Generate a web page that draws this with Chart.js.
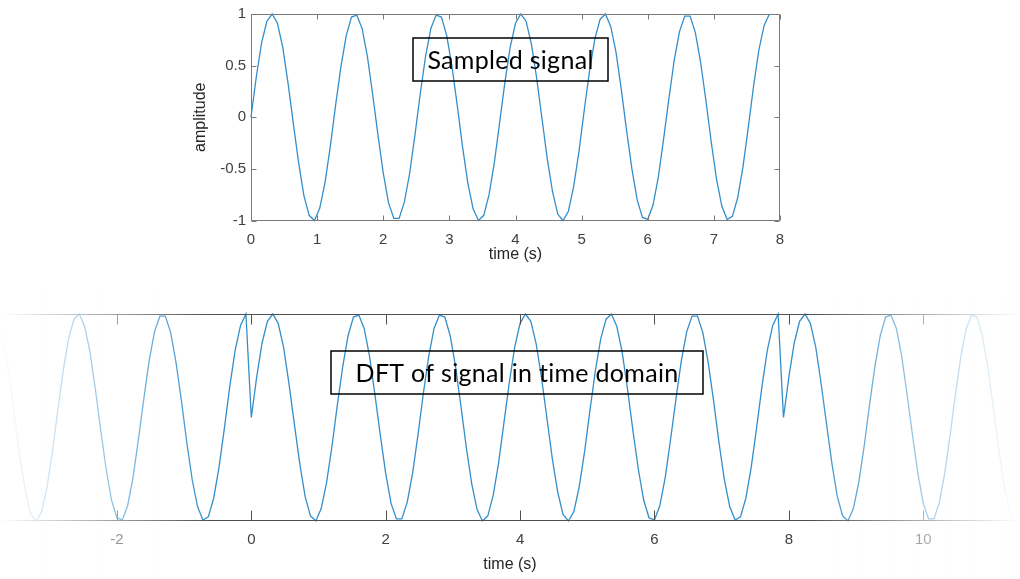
<!DOCTYPE html>
<html>
<head>
<meta charset="utf-8">
<title>Sampled signal and its periodic extension</title>
<script src="https://cdn.jsdelivr.net/npm/chart.js@4.4.1/dist/chart.umd.min.js"></script>
<style>
    body { margin: 0; background: #fff; width: 1020px; height: 579px; overflow: hidden; position: relative; }
    .panel { position: absolute; left: 0; width: 1020px; }
    #topPanel { top: 0; height: 272px; }
    #bottomPanel { top: 290px; height: 289px; }
</style>
</head>
<body>
<div class="panel" id="topPanel"><canvas id="signalChart"></canvas></div>
<div class="panel" id="bottomPanel"><canvas id="periodicChart"></canvas></div>

<script>
    // sample spacing in seconds, samples run from t = 0 to 7.84 s
    const sampleStep = 0.08;
    const signalValues = [
        0.00, 0.39, 0.72, 0.93, 1.00, 0.91, 0.68, 0.33, -0.06, -0.44,
        -0.76, -0.95, -1.00, -0.88, -0.63, -0.28, 0.12, 0.49, 0.79, 0.97,
        0.99, 0.86, 0.59, 0.22, -0.17, -0.54, -0.83, -0.98, -0.98, -0.82,
        -0.54, -0.17, 0.23, 0.59, 0.86, 0.99, 0.97, 0.79, 0.49, 0.11,
        -0.29, -0.64, -0.89, -1.00, -0.95, -0.75, -0.44, -0.05, 0.34, 0.68,
        0.91, 1.00, 0.93, 0.71, 0.38, -0.01, -0.40, -0.72, -0.94, -1.00,
        -0.91, -0.67, -0.33, 0.07, 0.45, 0.76, 0.95, 1.00, 0.88, 0.63,
        0.27, -0.13, -0.50, -0.80, -0.97, -0.99, -0.85, -0.58, -0.21, 0.18,
        0.55, 0.83, 0.98, 0.98, 0.82, 0.53, 0.16, -0.24, -0.60, -0.86,
        -0.99, -0.96, -0.78, -0.48, -0.10, 0.30, 0.65, 0.89, 1.00
    ];
    // which copies of the record are laid side by side in the lower plot
    const repeatCopies = [-1, 0, 1];

    const topTimeTicks = [0, 1, 2, 3, 4, 5, 6, 7, 8];
    const amplitudeTicks = [-1, -0.5, 0, 0.5, 1];
    const bottomTimeTicks = [-2, 0, 2, 4, 6, 8, 10];

    const lineColor = 'rgba(0, 114, 189, 0.8)';
    const labelFont = { family: '"Liberation Sans", Arial, sans-serif', size: 15 };
    const titleFont = { family: '"Liberation Sans", Arial, sans-serif', size: 16 };

    const signalPoints = signalValues.map((v, k) => ({ x: k * sampleStep, y: v }));
    const periodicPoints = repeatCopies.flatMap(c =>
        signalValues.map((v, k) => ({ x: (c * signalValues.length + k) * sampleStep, y: v })));

    const useTicks = list => scale => { scale.ticks = list.map(v => ({ value: v })); };

    // matlab style frame: box/edges plus ticks pointing into the plot
    const axesFrame = {
        id: 'axesFrame',
        afterDatasetsDraw(chart, args, opts) {
            const { ctx, chartArea: a, scales } = chart;
            ctx.save();
            ctx.strokeStyle = opts.color;
            ctx.lineWidth = 1;
            ctx.beginPath();
            const top = Math.round(a.top) + 0.5, bottom = Math.round(a.bottom) - 0.5;
            const left = Math.round(a.left) + 0.5, right = Math.round(a.right) - 0.5;
            ctx.moveTo(left, top); ctx.lineTo(right, top);
            ctx.moveTo(left, bottom); ctx.lineTo(right, bottom);
            if (opts.sides) {
                ctx.moveTo(left, top); ctx.lineTo(left, bottom);
                ctx.moveTo(right, top); ctx.lineTo(right, bottom);
            }
            scales.x.ticks.forEach(t => {
                const px = Math.round(scales.x.getPixelForValue(t.value)) + 0.5;
                ctx.moveTo(px, top); ctx.lineTo(px, top + opts.len);
                ctx.moveTo(px, bottom); ctx.lineTo(px, bottom - opts.len);
            });
            if (opts.sides) {
                scales.y.ticks.forEach(t => {
                    const py = Math.round(scales.y.getPixelForValue(t.value)) + 0.5;
                    ctx.moveTo(left, py); ctx.lineTo(left + opts.len, py);
                    ctx.moveTo(right, py); ctx.lineTo(right - opts.len, py);
                });
            }
            ctx.stroke();
            ctx.restore();
        }
    };

    // boxed caption inside the axes
    const captionBox = {
        id: 'captionBox',
        afterDraw(chart, args, opts) {
            const ctx = chart.ctx;
            ctx.save();
            ctx.strokeStyle = '#000';
            ctx.lineWidth = 1.5;
            ctx.strokeRect(opts.x, opts.y, opts.w, opts.h);
            ctx.fillStyle = '#000';
            ctx.font = opts.font;
            ctx.letterSpacing = '0.3px'; // also keeps "ti" from turning into a ligature
            ctx.textAlign = 'center';
            ctx.textBaseline = 'middle';
            ctx.fillText(opts.text, opts.x + opts.w / 2, opts.y + opts.h / 2 + 1);
            ctx.restore();
        }
    };

    // white fade towards both ends of the lower plot
    const edgeFade = {
        id: 'edgeFade',
        afterDraw(chart, args, opts) {
            const { ctx, width, height } = chart;
            ctx.save();
            const gl = ctx.createLinearGradient(0, 0, opts.left, 0);
            gl.addColorStop(0, 'rgba(255,255,255,1)');
            gl.addColorStop(1, 'rgba(255,255,255,0)');
            ctx.fillStyle = gl;
            ctx.fillRect(0, 0, opts.left, height);
            const gr = ctx.createLinearGradient(width - opts.right, 0, width, 0);
            gr.addColorStop(0, 'rgba(255,255,255,0)');
            gr.addColorStop(1, 'rgba(255,255,255,1)');
            ctx.fillStyle = gr;
            ctx.fillRect(width - opts.right, 0, opts.right, height);
            ctx.restore();
        }
    };

    const baseX = (ticks, height, titlePad) => ({
        type: 'linear',
        afterBuildTicks: useTicks(ticks),
        afterFit: s => { s.height = height; },
        grid: { display: false, drawTicks: false },
        border: { display: false },
        ticks: { padding: 10, color: '#404040', font: labelFont, maxRotation: 0, autoSkip: false },
        title: { display: true, text: 'time (s)', color: '#262626', font: titleFont, padding: { top: 0, bottom: titlePad } }
    });

    new Chart(document.getElementById('signalChart'), {
        type: 'line',
        data: {
            datasets: [{
                data: signalPoints,
                borderColor: lineColor,
                borderWidth: 1.3,
                pointRadius: 0,
                tension: 0,
                clip: { left: 2, right: 2, top: 3, bottom: 3 }
            }]
        },
        options: {
            responsive: true,
            maintainAspectRatio: false,
            animation: false,
            events: [],
            layout: { padding: { left: 187, right: 240, top: 13, bottom: 0 } },
            plugins: {
                legend: { display: false },
                tooltip: { enabled: false },
                axesFrame: { color: '#7a7a7a', len: 5, sides: true },
                captionBox: { x: 413, y: 38, w: 195, h: 43, text: 'Sampled signal', font: '25px Lato, "Open Sans", sans-serif' },
                edgeFade: false
            },
            scales: {
                x: Object.assign(baseX(topTimeTicks, 51.5, 8), { min: 0, max: 8 }),
                y: {
                    min: -1,
                    max: 1,
                    afterBuildTicks: useTicks(amplitudeTicks),
                    afterFit: s => { s.width = 64; },
                    grid: { display: false, drawTicks: false },
                    border: { display: false },
                    ticks: { padding: 5, color: '#404040', font: labelFont, callback: v => String(v) },
                    title: { display: true, text: 'amplitude', color: '#262626', font: titleFont, padding: { top: 4, bottom: 4 } }
                }
            }
        },
        plugins: [axesFrame, captionBox, edgeFade]
    });

    new Chart(document.getElementById('periodicChart'), {
        type: 'line',
        data: {
            datasets: [{
                data: periodicPoints,
                borderColor: lineColor,
                borderWidth: 1.3,
                pointRadius: 0,
                tension: 0,
                clip: { left: 0, right: 0, top: 3, bottom: 3 }
            }]
        },
        options: {
            responsive: true,
            maintainAspectRatio: false,
            animation: false,
            events: [],
            layout: { padding: { left: 0, right: 0, top: 24, bottom: 0 } },
            plugins: {
                legend: { display: false },
                tooltip: { enabled: false },
                axesFrame: { color: '#505050', len: 10, sides: false },
                captionBox: { x: 331, y: 61, w: 372, h: 43, text: 'DFT of signal in time domain', font: '25px Lato, "Open Sans", sans-serif' },
                edgeFade: { left: 210, right: 210 }
            },
            scales: {
                x: Object.assign(baseX(bottomTimeTicks, 58, 5), { min: -3.74, max: 11.44 }),
                y: { display: false, min: -1, max: 1 }
            }
        },
        plugins: [axesFrame, captionBox, edgeFade]
    });
</script>
</body>
</html>
